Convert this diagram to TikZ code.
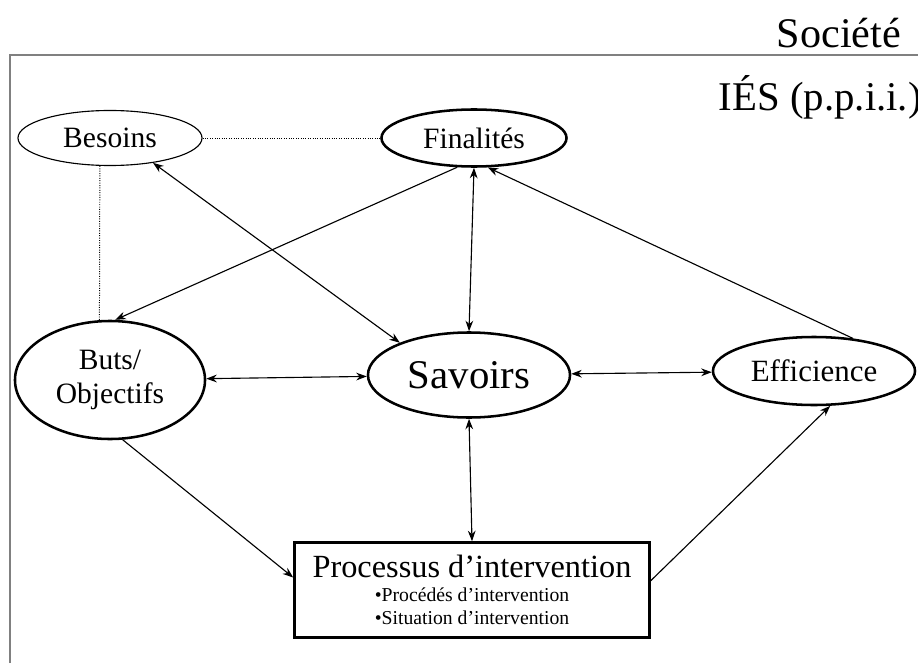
\documentclass[tikz,border=0pt]{standalone}
\usepackage{fontspec}
\setmainfont{Liberation Serif}
\usetikzlibrary{shapes.geometric, arrows.meta}

\begin{document}
\begin{tikzpicture}[x=0.025cm, y=-0.025cm, >={Stealth[length=7.5pt, width=5.5pt]},
    pole/.style={ellipse, draw, line width=1.8pt, inner sep=0pt, font=\fontsize{21}{24}\selectfont},
    lien/.style={line width=0.8pt},
    pointille/.style={densely dotted, line width=0.7pt}]
  \useasboundingbox (0,0) rectangle (918,663);
  % cadre ouvert
  \draw[gray, line width=1pt] (10,663) -- (10,55) -- (918,55);
  \node[anchor=east, font=\fontsize{30}{34}\selectfont] (societe) at (906,33) {Société};
  \node[anchor=west, font=\fontsize{29}{32}\selectfont] (ies) at (714,97) {IÉS (p.p.i.i.)};

  \node[pole, line width=0.8pt, minimum width=4.6cm, minimum height=1.375cm] (besoins) at (110,138) {Besoins};
  \node[pole, minimum width=4.625cm, minimum height=1.425cm] (finalites) at (474,138) {Finalités};
  \node[pole, minimum width=4.75cm, minimum height=2.95cm, align=center] (buts) at (110,380) {Buts/\\Objectifs};
  \node[pole, minimum width=5.05cm, minimum height=2.125cm, font=\fontsize{29}{32}\selectfont] (savoirs) at (469,375) {Savoirs};
  \node[pole, minimum width=5.05cm, minimum height=1.7cm, font=\fontsize{22}{24}\selectfont] (efficience) at (814,371) {Efficience};
  \node[rectangle, draw, line width=1.8pt, minimum width=8.875cm, minimum height=2.375cm, align=center,
        font=\fontsize{14}{16}\selectfont] (processus) at (472,590)
    {{\fontsize{23}{25}\selectfont Processus d’intervention}\\[1pt]
     •Procédés d’intervention\\
     •Situation d’intervention};

  \draw[pointille] (besoins) -- (finalites);
  \draw[pointille] (besoins.-110) -- (buts.100);
  \draw[lien, <->] (besoins.-30) -- (savoirs.155);
  \draw[lien, ->] (finalites.-120) -- (buts.85);
  \draw[lien, <->] (finalites.south) -- (savoirs.north);
  \draw[lien, ->] (efficience.40) -- (finalites.-65);
  \draw[lien, <->] (buts) -- (savoirs);
  \draw[lien, <->] (savoirs) -- (efficience);
  \draw[lien, <->] (savoirs.south) -- (processus.north);
  \draw[lien, ->] (buts.-78) -- (processus.176);
  \draw[lien, ->] (processus.3) -- (efficience.-65);
\end{tikzpicture}
\end{document}
